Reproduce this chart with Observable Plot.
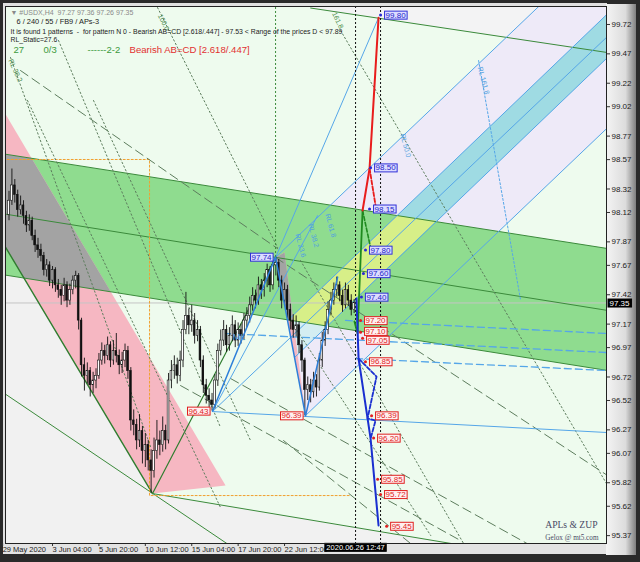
<!DOCTYPE html>
<html><head><meta charset="utf-8">
<script src="https://cdn.jsdelivr.net/npm/d3@7"></script>
<script src="https://cdn.jsdelivr.net/npm/@observablehq/plot@0.6"></script>
<style>
html,body{margin:0;padding:0;background:#2a2a2a;}
#chart{width:640px;height:562px;}
</style></head><body><div id="chart"></div>
<script>
// ---------- candles (H4 bars, index 4..123) ----------
const firstBar = 4;
const firstOpen = 98.10;
const closes = [
 98.22,98.35,98.27,98.14,98.18,98.09,98.01,98.05,97.92,97.84,
 97.80,97.75,97.63,97.67,97.54,97.63,97.50,97.46,97.41,97.50,
 97.37,97.46,97.54,97.58,97.20,96.82,96.73,96.77,96.65,96.69,
 96.73,96.86,96.94,96.90,96.99,96.86,96.94,96.90,96.82,96.86,
 96.94,96.77,96.35,96.31,96.18,96.26,96.09,96.14,96.01,95.92,
 96.09,96.18,96.14,96.26,96.18,96.69,96.77,96.82,96.73,96.86,
 97.12,97.24,97.16,97.20,97.07,97.12,96.86,96.65,96.56,96.52,
 96.48,96.69,96.94,97.03,97.12,96.99,97.07,97.16,97.03,97.12,
 97.07,97.20,97.24,97.33,97.41,97.37,97.50,97.46,97.54,97.63,
 97.50,97.67,97.69,97.54,97.37,97.46,97.29,97.20,97.12,97.16,
 96.99,96.86,96.61,96.65,96.59,96.69,96.63,96.86,97.03,97.12,
 97.29,97.37,97.46,97.50,97.41,97.33,97.46,97.37,97.29,97.35];
const highs = [
 98.30,98.49,98.40,98.31,98.26,98.22,98.13,98.10,98.08,97.97,
 97.90,97.85,97.78,97.72,97.70,97.66,97.65,97.55,97.50,97.56,
 97.53,97.51,97.58,97.62,97.60,97.22,96.88,96.84,96.80,96.76,
 96.79,96.92,97.01,96.99,97.06,97.02,97.03,97.09,96.95,96.93,
 97.00,96.98,96.80,96.44,96.36,96.40,96.30,96.24,96.18,96.10,
 96.20,96.35,96.26,96.38,96.31,96.75,96.86,96.90,96.88,96.94,
 97.20,97.44,97.30,97.33,97.26,97.20,97.15,96.90,96.70,96.62,
 96.58,96.74,97.00,97.12,97.20,97.16,97.14,97.24,97.20,97.18,
 97.17,97.26,97.31,97.40,97.48,97.46,97.57,97.55,97.60,97.68,
 97.66,97.71,97.74,97.72,97.58,97.52,97.50,97.34,97.25,97.24,
 97.19,97.03,96.88,96.72,96.70,96.76,96.74,96.92,97.10,97.19,
 97.36,97.44,97.52,97.57,97.53,97.46,97.52,97.50,97.42,97.38];
const lows = [
 98.05,98.18,98.20,98.08,98.10,98.02,97.95,97.96,97.88,97.78,
 97.73,97.70,97.58,97.57,97.49,97.47,97.44,97.39,97.33,97.36,
 97.31,97.33,97.42,97.47,97.12,96.72,96.60,96.66,96.55,96.58,
 96.62,96.70,96.82,96.83,96.86,96.80,96.82,96.84,96.74,96.75,
 96.80,96.70,96.26,96.22,96.10,96.12,95.98,95.95,95.92,95.73,
 95.86,96.02,96.05,96.08,96.10,96.15,96.62,96.70,96.66,96.68,
 96.80,97.08,97.08,97.10,97.00,97.02,96.80,96.58,96.49,96.46,
 96.43,96.45,96.64,96.90,96.98,96.93,96.94,97.02,96.97,96.98,
 97.00,97.03,97.14,97.18,97.28,97.30,97.33,97.38,97.40,97.48,
 97.44,97.46,97.58,97.48,97.30,97.32,97.22,97.12,97.05,97.06,
 96.92,96.76,96.39,96.52,96.50,96.54,96.55,96.60,96.80,96.98,
 97.08,97.24,97.33,97.40,97.36,97.27,97.30,97.32,97.24,97.26];

// ---------- axes ----------
const priceTicks = [99.72,99.47,99.22,99.02,98.77,98.57,98.32,98.12,97.87,97.67,97.42,97.17,96.97,96.72,96.52,96.27,96.07,95.82,95.62,95.37];
const timeTickIdx = [1.8,19,35,51,67,83,99];
const timeTickLabels = ["29 May 2020","3 Jun 04:00","5 Jun 20:00","10 Jun 12:00","15 Jun 04:00","17 Jun 20:00","22 Jun 12:00"];
const lastPrice = 97.35;
const cursorBar = 123.48;
const cursorLabel = "2020.06.26 12:47";
const secondCursorBar = 132.1;
const xDomain = [2.79, 210.0];
const yDomain = [95.303, 99.873];

// ---------- filled zones [bar, price] ----------
const lightGrayZone = [[2,97.858],[53.48,95.728],[170,95.247],[170,95.2],[2,95.2]];
const topGrayZone = [[108,99.95],[212,99.95],[212,99.475],[108,99.860]];
const lavenderA = [[95.9,97.737],[192.0,100.0],[212,100.0],[212,99.850],[100.24,97.205]];
const lavenderB = [[106.24,96.392],[212,98.880],[212,99.478],[102.45,96.886]];
const cyanBand = [[100.24,97.205],[212,99.850],[212,99.478],[102.45,96.886]];
const greenBand = [[2,98.619],[212,97.807],[212,96.769],[2,97.590]];
const yellowZone = [[100.27,97.206],[137.80,98.094],[151.30,98.050],[113.74,97.153]];
const paleCyanZone = [[100.27,97.206],[113.74,97.153],[102.45,96.886]];
const pinkZone = [[2,98.990],[78.66,95.796],[53.48,95.728],[2,97.858]];
const pinkZone2 = [[95.9,97.737],[99.0,97.779],[106.24,96.392]];
const grayZone = [[2,98.619],[11.83,98.580],[39.09,97.445],[9.15,97.562],[2,97.858]];
const grayZone2 = [[95.9,97.737],[99.0,97.779],[102.03,97.199],[99.975,97.207]];

// ---------- lines ----------
const greenTop = [[2,98.619],[212,97.807]];
const greenMid = [[2,98.109],[212,97.280]];
const greenBot = [[2,97.590],[212,96.769]];
const greenTrendDown = [[2,97.858],[53.48,95.728]];
const greenLow = [[53.48,95.728],[170,95.247]];
const greenUp = [[53.48,95.728],[95.9,97.737]];
const greenLower = [[2,96.587],[80,95.288]];
const greenTopRight = [[108,99.860],[212,99.475]];
const orangeBox = [[2,98.571],[52.45,98.571],[52.45,95.711],[121.8,95.711]];

const dashLines = [
 [[7.97,99.328],[96.59,97.813]],
 [[95.9,97.737],[212,95.855]],
 [[80.38,96.707],[183.83,95.286]],
 [[63.14,96.647],[159.69,95.328]],
 [[98.66,96.179],[142.45,95.303]]];
const dotLines = [
 [[55.21,99.864],[96.59,97.822]],
 [[21.07,99.584],[76.93,96.290]],
 [[4.52,99.439],[52.79,96.128]],
 [[10.38,99.073],[76.93,95.609]],
 [[33.14,99.073],[87.28,96.179]],
 [[118.31,99.669],[210.4,95.796]],
 [[104.52,97.711],[160.72,95.303]],
 [[101.1,97.201],[149.4,95.371]]];

const channelLines = [
 [[95.9,97.737],[192.0,100.0]],
 [[100.24,97.205],[212,99.850]],
 [[74.17,96.426],[212,99.657]],
 [[102.45,96.886],[212,99.478]],
 [[106.24,96.392],[212,98.880]]];
const blueThin = [
 [[95.9,97.737],[131.41,99.778]],
 [[74.17,96.426],[212,96.245]],
 [[74.17,96.426],[110.4,98.094]]];
const blueDotted = [[[165.9,99.413],[180.4,97.371]]];
const zigzag = [[74.17,96.43],[95.9,97.74],[106.24,96.39],[117.3,97.57]];
const levelDashes = [
 [[120.03,97.201],[212,97.088]],
 [[78.66,97.090],[212,96.926]],
 [[123.48,96.877],[212,96.773]]];

// pattern projection
const patGreen = [[123.1,97.192],[124.17,97.090],[125.9,98.137]];
const patGreenDash = [[125.9,98.137],[128.66,97.822]];
const patRed = [[125.9,98.137],[128.31,98.494],[131.41,99.778]];
const patRedDash = [[128.31,98.494],[130.38,98.179]];
const patBlue = [[123.8,97.388],[124.52,96.877],[127.62,96.367],[128.66,96.196],[131.41,95.456]];
const patBlueDash = [[124.52,96.877],[130.72,96.724],[127.62,96.367],[130.38,96.350],[128.66,96.196]];
const greenVertical = [[95.9,97.737,99.9]];

// level labels
const blueLabels = [[99.80,132.1],[98.50,128.66],[98.15,128.3],[97.80,126.9],[97.60,126.2],[97.40,125.5]];
const redLabels = [[97.20,125.2],[96.85,126.9],[96.39,129.0],[96.20,129.7],[95.85,131.1],[95.72,132.1],[95.45,134.2]];
const redLabelUpper = [[97.10,125.2]];
const redLabelLower = [[97.05,125.9]];
const pivotBlueLabels = [[97.74,95.9]];
const pivotRedLabels = [[96.43,74.17],[96.39,106.24]];

const infoLines = [
 "\u25BC #USDX,H4  97.27 97.36 97.26 97.35",
 "6 / 240 / 55 / FB9 / APs-3",
 "It is found 1 patterns  -  for pattern N 0 - Bearish AB=CD [2.618/.447] - 97.53 < Range of the prices D < 97.89",
 "RL_Static=27.6"];
const statusGreen = ["27","0/3","------2-2"];
const patternTitle = "Bearish AB=CD [2.618/.447]";
const brand = ["APLs & ZUP","Gelox @ mt5.com"];
const rlGreenTexts = [["100.0",57.3,99.737],["161.8",117.3,99.754],["RL 38.2",6.2,99.328]];
const rlBlueTexts = [["RL 161.8",167.6,99.243],["RL 50.0",140.7,98.69],["RL 61.8",114.9,98.009],["RL 38.2",109,97.924],["RL 23.6",104.5,97.839]];
const mlText = [["ML",81.1,97.056]];

// ---------- build ----------
const candles = closes.map((c,k)=>({i:firstBar+k, o: k? closes[k-1] : firstOpen, c, h: highs[k], l: lows[k]}));
const X = d=>d[0], Y = d=>d[1];
const poly = (pts, color) => Plot.line(pts, {x:X, y:Y, fill:color, stroke:"none", clip:true});
const path = (pts, o) => Plot.line(pts, {x:X, y:Y, clip:true, strokeWidth:1, ...o});
const multi = (arr, o) => arr.map(pts => path(pts, o));
const SANS = "Liberation Sans, Arial, sans-serif";
const BLUE_TXT = "#2323c8", RED_TXT = "#e01c1c", BOX_TXT = "#fefefe";
const lbl = (data, fill, dx, anchor, dy=0) => Plot.text(data, {x:d=>d[1], y:d=>d[0], text:d=>d[0].toFixed(2), dx, dy, textAnchor:anchor, fill, fontSize:8, fontFamily:SANS});

const marks = [
 Plot.frame({fill:"#eefbee", stroke:null}),
 poly(lightGrayZone, "#f1f1f1"),
 poly(topGrayZone, "#f3f3f4"),
 poly(lavenderA, "#eeeaf8"),
 poly(lavenderB, "#eeeaf8"),
 poly(cyanBand, "#9fdbe3"),
 poly(greenBand, "#8fdc8f"),
 poly(yellowZone, "#d7ef88"),
 poly(paleCyanZone, "#d4eef2"),
 poly(pinkZone, "#f6b7c2"),
 poly(pinkZone2, "#f6b7c2"),
 poly(grayZone, "#a3a3a3"),
 poly(grayZone2, "#a3a3a3"),
 Plot.ruleY([lastPrice], {stroke:"#c4c4c4"}),
 path(greenTop, {stroke:"#3b8a3b"}),
 path(greenMid, {stroke:"#3b8a3b"}),
 path(greenBot, {stroke:"#3b8a3b"}),
 path(greenTrendDown, {stroke:"#2f7d2f", strokeWidth:1.4}),
 path(greenLow, {stroke:"#3b8a3b"}),
 path(greenUp, {stroke:"#2f7d2f", strokeWidth:1.2}),
 path(greenLower, {stroke:"#3b8a3b"}),
 path(greenTopRight, {stroke:"#3b8a3b"}),
 path(orangeBox, {stroke:"#f0a030", strokeDasharray:"2,2"}),
 ...multi(dashLines, {stroke:"#5d7d5d", strokeDasharray:"9,5"}),
 ...multi(dotLines, {stroke:"#5d7d5d", strokeDasharray:"1.5,2.5"}),
 ...multi(channelLines, {stroke:"#55a6e8"}),
 ...multi(blueThin, {stroke:"#55a6e8"}),
 ...multi(blueDotted, {stroke:"#55a6e8", strokeDasharray:"2,2"}),
 ...multi(levelDashes, {stroke:"#55a6e8", strokeWidth:1.3, strokeDasharray:"7,4"}),
 Plot.ruleX(greenVertical, {x:d=>d[0], y1:d=>d[1], y2:d=>d[2], stroke:"#3b8a3b", strokeDasharray:"2,2", clip:true}),
 Plot.ruleX([cursorBar, secondCursorBar], {stroke:"#111", strokeDasharray:"2,2"}),
 // candles
 Plot.ruleX(candles, {x:"i", y1:"l", y2:"h", stroke:"#111", strokeWidth:0.9}),
 Plot.rect(candles.filter(d=>d.c>=d.o), {x1:d=>d.i-0.3, x2:d=>d.i+0.3, y1:"o", y2:"c", fill:"#fff", stroke:"#111", strokeWidth:0.6}),
 Plot.rect(candles.filter(d=>d.c<d.o), {x1:d=>d.i-0.3, x2:d=>d.i+0.3, y1:"o", y2:"c", fill:"#111", stroke:"#111", strokeWidth:0.6}),
 path(zigzag, {stroke:"#2e7fd9", strokeWidth:1.5}),
 path(patGreen, {stroke:"#1f8a1f", strokeWidth:1.8}),
 path(patGreenDash, {stroke:"#1f8a1f", strokeWidth:1.6, strokeDasharray:"4,2"}),
 path(patRed, {stroke:"#e81c1c", strokeWidth:2}),
 path(patRedDash, {stroke:"#e81c1c", strokeWidth:1.8, strokeDasharray:"4,2"}),
 path(patBlue, {stroke:"#1a2fd0", strokeWidth:2}),
 path(patBlueDash, {stroke:"#1a2fd0", strokeWidth:1.8, strokeDasharray:"4,2"}),
 // rotated RL labels
 Plot.text(rlGreenTexts, {x:d=>d[1], y:d=>d[2], text:d=>d[0], rotate:65, fill:"#4a8a4a", fontSize:7, fontFamily:SANS}),
 Plot.text(rlBlueTexts, {x:d=>d[1], y:d=>d[2], text:d=>d[0], rotate:75, fill:"#4f9fe0", fontSize:7, fontFamily:SANS}),
 Plot.text(mlText, {x:d=>d[1], y:d=>d[2], text:d=>d[0], fill:"#4f9fe0", fontSize:9, fontFamily:SANS, textAnchor:"start"}),
 // level labels
 Plot.dot(blueLabels, {x:d=>d[1], y:d=>d[0], r:1.5, fill:"#2a2ad0", stroke:null}),
 Plot.dot(redLabels.concat(redLabelUpper, redLabelLower), {x:d=>d[1], y:d=>d[0], r:1.5, fill:"#e02020", stroke:null}),
 lbl(blueLabels, BLUE_TXT, 5, "start"),
 lbl(redLabels, RED_TXT, 5, "start"),
 lbl(redLabelUpper, RED_TXT, 5, "start", -1),
 lbl(redLabelLower, RED_TXT, 5, "start", 2),
 lbl(pivotBlueLabels, BLUE_TXT, -4, "end"),
 lbl(pivotRedLabels, RED_TXT, -4, "end"),
 // info text
 Plot.text([infoLines[0]], {frameAnchor:"top-left", dx:5, dy:6, lineAnchor:"middle", fill:"#8a8a8a", fontSize:7, fontFamily:SANS}),
 Plot.text([infoLines[1]], {frameAnchor:"top-left", dx:11, dy:15, lineAnchor:"middle", fill:"#222", fontSize:7.4, fontFamily:SANS}),
 Plot.text([infoLines[2]], {frameAnchor:"top-left", dx:5, dy:25, lineAnchor:"middle", fill:"#222", fontSize:6.9, fontFamily:SANS}),
 Plot.text([infoLines[3]], {frameAnchor:"top-left", dx:5, dy:33, lineAnchor:"middle", fill:"#222", fontSize:6.8, fontFamily:SANS}),
 Plot.text([statusGreen[0]], {frameAnchor:"top-left", dx:8, dy:43, lineAnchor:"middle", fill:"#3c9a3c", fontSize:9.5, fontFamily:SANS}),
 Plot.text([statusGreen[1]], {frameAnchor:"top-left", dx:38, dy:43, lineAnchor:"middle", fill:"#3c9a3c", fontSize:9.5, fontFamily:SANS}),
 Plot.text([statusGreen[2]], {frameAnchor:"top-left", dx:82, dy:43, lineAnchor:"middle", fill:"#3c9a3c", fontSize:9.5, fontFamily:SANS}),
 Plot.text([patternTitle], {frameAnchor:"top-left", dx:124, dy:43, lineAnchor:"middle", fill:"#e23030", fontSize:9.6, fontFamily:SANS}),
 Plot.text([brand[0]], {frameAnchor:"bottom-right", dx:-9, dy:-19, lineAnchor:"middle", fill:"#4a4a66", fontSize:9.6, fontFamily:"Liberation Serif, serif"}),
 Plot.text([brand[1]], {frameAnchor:"bottom-right", dx:-8, dy:-6, lineAnchor:"middle", fill:"#4a4a66", fontSize:7.2, fontFamily:"Liberation Serif, serif"}),
 // axes
 Plot.axisY(priceTicks, {anchor:"right", tickFormat:d=>d.toFixed(2), tickSize:3, tickPadding:2, fontSize:8, fontFamily:SANS, label:null, stroke:"#333", fill:"#222"}),
 Plot.axisX(timeTickIdx, {anchor:"bottom", tickFormat:d=>timeTickLabels[timeTickIdx.indexOf(d)], textAnchor:"start", tickSize:3, tickPadding:0, fontSize:7.5, fontFamily:SANS, label:null, stroke:"#333", fill:"#222"}),
 Plot.text([lastPrice], {y:d=>d, frameAnchor:"right", textAnchor:"start", dx:3, text:d=>d.toFixed(2), fill:BOX_TXT, fontSize:8, fontFamily:SANS}),
 Plot.text([cursorBar], {x:d=>d, frameAnchor:"bottom", lineAnchor:"top", dy:1, text:()=>cursorLabel, fill:BOX_TXT, fontSize:7.5, fontFamily:SANS}),
 Plot.frame({stroke:"#222", fill:"none"})
];

const svg = Plot.plot({
  width:640, height:562,
  marginLeft:5, marginRight:34, marginTop:6, marginBottom:19,
  x:{domain:xDomain, axis:null},
  y:{domain:yDomain, axis:null},
  style:{
    fontFamily:SANS, fontSize:"8px", maxWidth:"none",
    background:"linear-gradient(to right, #f4f4f4 0%, #dcdcdc 65%, #7e7e7e 100%) 606px 4px / 30px 551px no-repeat, linear-gradient(#e3e3e3,#e3e3e3) 3px 543px / 604px 11px no-repeat, linear-gradient(#e0e0e0,#e0e0e0) 3px 3px / 604px 3px no-repeat, linear-gradient(#e0e0e0,#e0e0e0) 3px 3px / 2px 541px no-repeat, #2a2a2a"
  },
  marks
});
document.getElementById("chart").append(svg);

function boxify(textColor, fill, stroke, padX, padY) {
  const groups = Array.from(svg.querySelectorAll("g")).filter(g => (g.getAttribute("fill")||"").toLowerCase() === textColor);
  groups.forEach(g => {
    Array.from(g.querySelectorAll("text")).forEach(t => {
      let b;
      try { b = t.getBBox(); } catch(e) { return; }
      const r = document.createElementNS("http://www.w3.org/2000/svg","rect");
      r.setAttribute("x", b.x - padX); r.setAttribute("y", b.y - padY);
      r.setAttribute("width", b.width + 2*padX); r.setAttribute("height", b.height + 2*padY);
      r.setAttribute("fill", fill); r.setAttribute("stroke", stroke); r.setAttribute("stroke-width", 1);
      const tr = t.getAttribute("transform"); if (tr) r.setAttribute("transform", tr);
      t.parentNode.insertBefore(r, t);
    });
  });
}
boxify(BLUE_TXT, "#dcdcff", "#3030d8", 1, -0.5);
boxify(RED_TXT, "#fff0f0", "#e02020", 1, -0.5);
boxify(BOX_TXT, "#000", "#000", 1.5, -0.5);
</script></body></html>
